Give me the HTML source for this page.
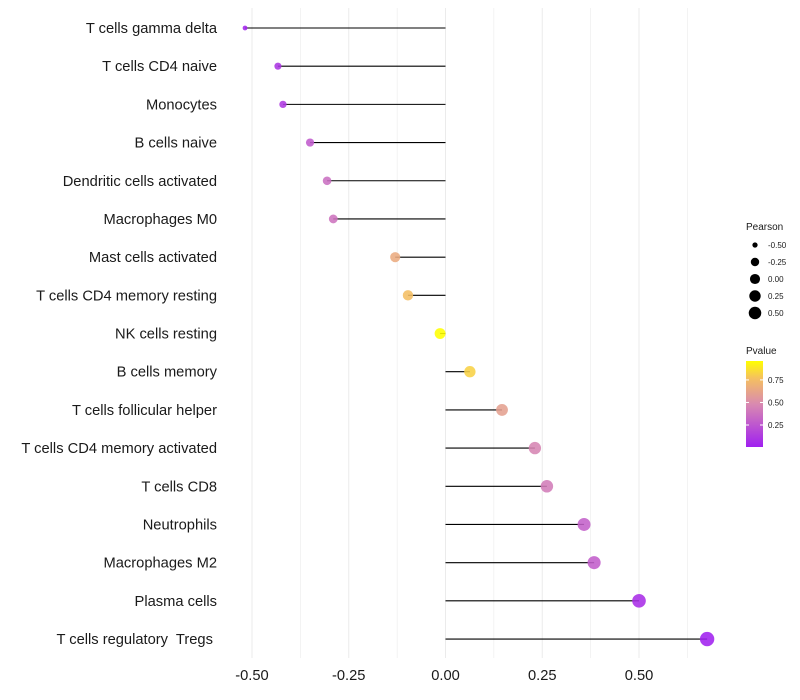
<!DOCTYPE html>
<html><head><meta charset="utf-8">
<style>
body{margin:0;background:#fff;}
svg{display:block;font-family:"Liberation Sans",sans-serif;}
text{white-space:pre;}
</style></head>
<body>
<svg id="chart" width="800" height="700"></svg>
<script>
const categories=["T cells gamma delta","T cells CD4 naive","Monocytes","B cells naive","Dendritic cells activated","Macrophages M0","Mast cells activated","T cells CD4 memory resting","NK cells resting","B cells memory","T cells follicular helper","T cells CD4 memory activated","T cells CD8","Neutrophils","Macrophages M2","Plasma cells","T cells regulatory  Tregs "];
const pearson=[-0.518,-0.433,-0.42,-0.35,-0.306,-0.29,-0.13,-0.097,-0.014,0.063,0.146,0.231,0.262,0.358,0.384,0.5,0.676];
const pvalue=[0.03,0.1,0.12,0.27,0.36,0.38,0.66,0.76,0.96,0.82,0.6,0.46,0.42,0.3,0.28,0.07,0.01];
const xTicks=[-0.5,-0.25,0,0.25,0.5];
const xTickLabels=["-0.50","-0.25","0.00","0.25","0.50"];
const sizeLegend=[-0.5,-0.25,0,0.25,0.5];
const sizeLegendLabels=["-0.50","-0.25","0.00","0.25","0.50"];
const colorTicks=[0.75,0.5,0.25];
const colorTickLabels=["0.75","0.50","0.25"];

const NS="http://www.w3.org/2000/svg";
const svg=document.getElementById('chart');
const x=v=>445.5+v*387;
const y=i=>28+i*38.19;
const rad=v=>2.2+5*Math.sqrt(Math.max(0,(v+0.52)/1.2));
const stops=[[0,[160,32,240]],[0.5,[217,138,176]],[0.8,[245,192,96]],[1,[255,255,0]]];
function col(p){const t=(p-0.006)/(0.96-0.006);const c=Math.max(0,Math.min(1,t));
 for(let k=1;k<stops.length;k++){if(c<=stops[k][0]){const a=stops[k-1],b=stops[k];const f=(c-a[0])/(b[0]-a[0]);
 return 'rgb('+a[1].map((v,j)=>Math.round(v+(b[1][j]-v)*f)).join(',')+')';}}return 'rgb(255,255,0)';}
const cy=p=>447-(p-0.006)/(0.96-0.006)*86;
function mk(tag,attrs,parent){const e=document.createElementNS(NS,tag);for(const k in attrs)e.setAttribute(k,attrs[k]);(parent||svg).appendChild(e);return e;}

for(let v=-0.5;v<=0.63;v+=0.125){
 const g=mk('line',{x1:x(v),x2:x(v),y1:8,y2:658,stroke:'#ebebeb','stroke-width':(Math.round(v*8)%2===0)?1:0.6});
 
 
}
categories.forEach((c,i)=>{
 const t=mk('text',{x:217,y:y(i)+5,'text-anchor':'end','font-size':14.7,fill:'#1a1a1a'});t.textContent=c;
 
 
 const l=mk('line',{x1:x(0),x2:x(pearson[i]),y1:y(i),y2:y(i),stroke:'#000','stroke-width':1.1});
 
 
 const d=mk('circle',{cx:x(pearson[i]),cy:y(i),r:rad(pearson[i]),fill:col(pvalue[i]),'fill-opacity':0.88});
 
 
});
xTicks.forEach((v,i)=>{
 const t=mk('text',{x:x(v),y:680,'text-anchor':'middle','font-size':14.7,fill:'#1a1a1a'});t.textContent=xTickLabels[i];
 
 
});
let t=mk('text',{x:746,y:230,'font-size':10,fill:'#1a1a1a'});t.textContent='Pearson';


sizeLegend.forEach((v,i)=>{
 const c=mk('circle',{cx:755,cy:245+i*17,r:rad(v)*0.92,fill:'#000'});
 
 
 const l=mk('text',{x:768,y:248+i*17,'font-size':8,fill:'#1a1a1a'});l.textContent=sizeLegendLabels[i];
 
 
});
t=mk('text',{x:746,y:354,'font-size':10,fill:'#1a1a1a'});t.textContent='Pvalue';


const defs=mk('defs',{});const lg=mk('linearGradient',{id:'pg',x1:0,y1:1,x2:0,y2:0},defs);
stops.forEach(s=>mk('stop',{offset:s[0],'stop-color':'rgb('+s[1].join(',')+')'},lg));
const bar=mk('rect',{x:746,y:361,width:17,height:86,fill:'url(#pg)'});


colorTicks.forEach((v,i)=>{
 mk('line',{x1:746,x2:749,y1:cy(v),y2:cy(v),stroke:'#fff'});mk('line',{x1:760,x2:763,y1:cy(v),y2:cy(v),stroke:'#fff'});
 const l=mk('text',{x:768,y:cy(v)+3,'font-size':8,fill:'#1a1a1a'});l.textContent=colorTickLabels[i];
 
 
});
</script>
</body></html>
